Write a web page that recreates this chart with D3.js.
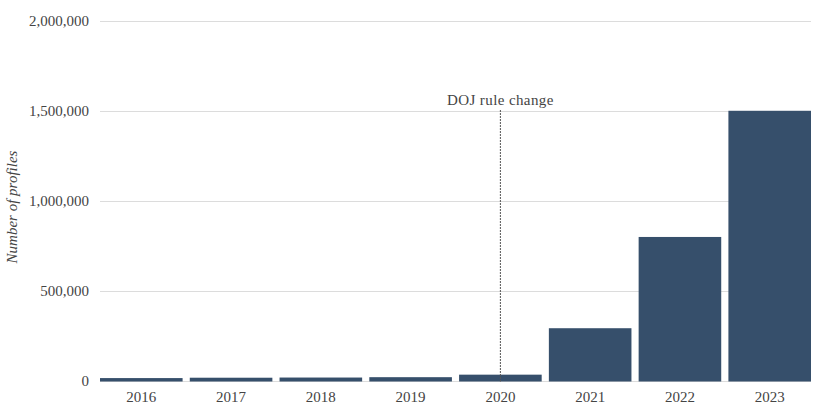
<!DOCTYPE html>
<html>
<head>
<meta charset="utf-8">
<script src="https://cdn.jsdelivr.net/npm/d3@7.9.0/dist/d3.min.js"></script>
<style>
  body { margin: 0; background: #fff; }
  svg text { font-family: "Liberation Serif", serif; fill: #444; }
</style>
</head>
<body>
<svg id="chart" width="819" height="417"></svg>
<script>
// --- data ---
const years = ['2016', '2017', '2018', '2019', '2020', '2021', '2022', '2023'];
const profiles = [19000, 21000, 22000, 24000, 38000, 296000, 803000, 1504000];
const yTicks = [0, 500000, 1000000, 1500000, 2000000];
const markerYear = '2020';
const markerLabel = 'DOJ rule change';

const svg = d3.select('#chart');
const plotLeft = 100, plotRight = 811, plotTop = 21.5, plotBottom = 381.5;

const x = d3.scaleBand().domain(years).range([plotLeft, plotRight]).paddingInner(0.08).paddingOuter(0);
const y = d3.scaleLinear().domain([0, 2000000]).range([plotBottom, plotTop]);

// gridlines
svg.append('g')
  .selectAll('line')
  .data(yTicks)
  .join('line')
  .attr('x1', plotLeft).attr('x2', plotRight)
  .attr('y1', d => y(d)).attr('y2', d => y(d))
  .attr('stroke', '#dcdcdc')
  .attr('stroke-width', 1);

// y tick labels
svg.append('g')
  .selectAll('text')
  .data(yTicks)
  .join('text')
  .attr('x', 89)
  .attr('y', d => y(d))
  .attr('dy', '0.33em')
  .attr('text-anchor', 'end')
  .attr('font-size', 15)
  .text(d => d3.format(',')(d));

// bars
svg.append('g')
  .selectAll('rect')
  .data(years)
  .join('rect')
  .attr('x', d => x(d))
  .attr('width', x.bandwidth())
  .attr('y', (d, i) => y(profiles[i]))
  .attr('height', (d, i) => y(0) - y(profiles[i]))
  .attr('fill', '#364f6b');

// x labels
svg.append('g')
  .selectAll('text')
  .data(years)
  .join('text')
  .attr('x', d => x(d) + x.bandwidth() / 2)
  .attr('y', 401.5)
  .attr('text-anchor', 'middle')
  .attr('font-size', 15)
  .text(d => d);

// annotation
const mx = x(markerYear) + x.bandwidth() / 2;
svg.append('line')
  .attr('x1', mx).attr('x2', mx)
  .attr('y1', 110).attr('y2', y(0))
  .attr('stroke', '#555')
  .attr('stroke-width', 1)
  .attr('stroke-dasharray', '2,1');

svg.append('text')
  .attr('x', mx)
  .attr('y', 105)
  .attr('text-anchor', 'middle')
  .attr('font-size', 15)
  .attr('letter-spacing', 0.4)
  .text(markerLabel);

// y axis title
svg.append('text')
  .attr('transform', `translate(17,207) rotate(-90)`)
  .attr('text-anchor', 'middle')
  .attr('font-size', 15)
  .attr('font-style', 'italic')
  .text('Number of profiles');
</script>
</body>
</html>
